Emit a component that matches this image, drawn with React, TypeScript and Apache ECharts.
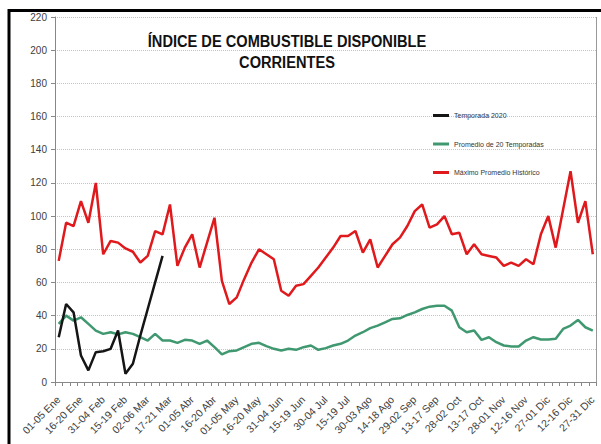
import React, { useEffect, useRef } from "react";
import * as echarts from "echarts";

const tickLabels = [
  "01-05 Ene", "16-20 Ene", "31-04 Feb", "15-19 Feb", "02-06 Mar", "17-21 Mar",
  "01-05 Abr", "16-20 Abr", "01-05 May", "16-20 May", "31-04 Jun", "15-19 Jun",
  "30-04 Jul", "15-19 Jul", "30-03 Ago", "14-18 Ago", "29-02 Sep", "13-17 Sep",
  "28-02 Oct", "13-17 Oct", "28-01 Nov", "12-16 Nov", "27-01 Dic", "12-16 Dic",
  "27-31 Dic",
];

const temporada2020 = [27, 47, 42, 16, 7, 18, 18.5, 20, 31, 5, 11, 28, 44, 60, 76];

const promedio20 = [
  35, 40, 37, 39, 35, 31, 29, 30, 28.7, 30, 29, 27, 25, 29, 25, 25, 23.6, 25.4, 25, 23,
  25, 21, 16.6, 18.6, 19, 21, 23, 23.6, 21.6, 20, 19, 20, 19.4, 21, 22, 19.4, 20.4, 22, 23, 25,
  28, 30, 32.5, 34, 36, 38, 38.4, 40.4, 42, 44, 45.4, 46, 46, 43, 33, 30, 31, 25.4, 27, 24,
  22, 21.4, 21.4, 25, 27, 25.6, 25.6, 26, 32, 34, 37.4, 33, 31,
];

const maximoHistorico = [
  73, 96, 94, 109, 96, 120, 77, 85, 84, 80.5, 78.5, 72, 76, 91, 89, 107, 70, 81, 89, 69,
  84, 99, 61, 47, 51, 62, 72, 80, 77, 74, 55, 52, 58, 59, 64, 69, 75, 81, 88, 88,
  91, 78, 86, 69, 76, 83, 87, 94, 103, 107, 93, 95, 100, 89, 90, 77, 83, 77, 76, 75,
  70, 72, 70, 74, 71, 89, 100, 81, 104, 127, 96, 109, 77,
];

const seriesNames = ["Temporada 2020", "Promedio de 20 Temporadas", "Máximo Promedio Histórico"];
const titleLines = ["ÍNDICE DE COMBUSTIBLE DISPONIBLE", "CORRIENTES"];

const FONT = '"Liberation Sans", Arial, sans-serif';

export default function App() {
  const ref = useRef<HTMLDivElement>(null);

  useEffect(() => {
    if (!ref.current) return;
    const chart = echarts.init(ref.current, undefined, { renderer: "svg" });
    const categories: string[] = [];
    for (let i = 0; i < maximoHistorico.length; i++) {
      categories.push(i % 3 === 0 ? tickLabels[i / 3] : "");
    }
    chart.setOption({
      animation: false,
      backgroundColor: "#ffffff",
      textStyle: { fontFamily: FONT },
      grid: { left: 55, right: 4.5, top: 17, bottom: 62 },
      legend: {
        orient: "vertical",
        left: 428,
        top: 107,
        icon: "rect",
        itemWidth: 16,
        itemHeight: 3,
        itemGap: 21.5,
        inactiveColor: "#333",
        textStyle: { fontSize: 7, color: "#333333", fontFamily: FONT },
        data: seriesNames,
      },
      xAxis: {
        type: "category",
        data: categories,
        boundaryGap: true,
        axisLine: { show: true, lineStyle: { color: "#888", width: 1 } },
        axisTick: { show: true, interval: 0, length: 4, lineStyle: { color: "#888" } },
        axisLabel: {
          interval: 0,
          rotate: 45,
          margin: 16,
          fontSize: 10.5,
          color: "#404040",
          fontFamily: FONT,
        },
        splitLine: { show: false },
      },
      yAxis: {
        type: "value",
        min: 0,
        max: 220,
        interval: 20,
        axisLine: { show: true, lineStyle: { color: "#888", width: 1 } },
        axisTick: { show: true, length: 4, lineStyle: { color: "#888" } },
        axisLabel: { fontSize: 10, color: "#404040", margin: 8, fontFamily: FONT },
        splitLine: { show: true, lineStyle: { color: "#c4c4c4", type: "dotted", width: 1 } },
      },
      series: [
        {
          name: seriesNames[0],
          type: "line",
          data: temporada2020,
          symbol: "none",
          z: 4,
          lineStyle: { color: "#151515", width: 2.5 },
          itemStyle: { color: "#151515" },
        },
        {
          name: seriesNames[1],
          type: "line",
          data: promedio20,
          symbol: "none",
          z: 3,
          lineStyle: { color: "#409870", width: 2.5 },
          itemStyle: { color: "#409870" },
        },
        {
          name: seriesNames[2],
          type: "line",
          data: maximoHistorico,
          symbol: "none",
          z: 3,
          lineStyle: { color: "#e0191c", width: 2.5 },
          itemStyle: { color: "#e0191c" },
        },
      ],
      graphic: [
        {
          type: "rect",
          silent: true,
          shape: { x: 9, y: 10.5, width: 900, height: 900 },
          style: { fill: "none", stroke: "#000", lineWidth: 3 },
        },
        {
          type: "line",
          silent: true,
          shape: { x1: 596.5, y1: 17, x2: 596.5, y2: 382 },
          style: { stroke: "#999", lineWidth: 1 },
        },
        {
          type: "text",
          silent: true,
          x: 287,
          y: 41,
          scaleX: 0.86,
          style: {
            text: titleLines[0],
            font: 'bold 17px "Liberation Sans", Arial, sans-serif',
            fill: "#111",
            textAlign: "center",
            textVerticalAlign: "middle",
          },
        },
        {
          type: "text",
          silent: true,
          x: 287,
          y: 62,
          scaleX: 0.86,
          style: {
            text: titleLines[1],
            font: 'bold 17px "Liberation Sans", Arial, sans-serif',
            fill: "#111",
            textAlign: "center",
            textVerticalAlign: "middle",
          },
        },
      ],
    });
    return () => chart.dispose();
  }, []);

  return (
    <div
      ref={ref}
      style={{ position: "fixed", left: 0, top: 0, width: 601, height: 444 }}
    />
  );
}
